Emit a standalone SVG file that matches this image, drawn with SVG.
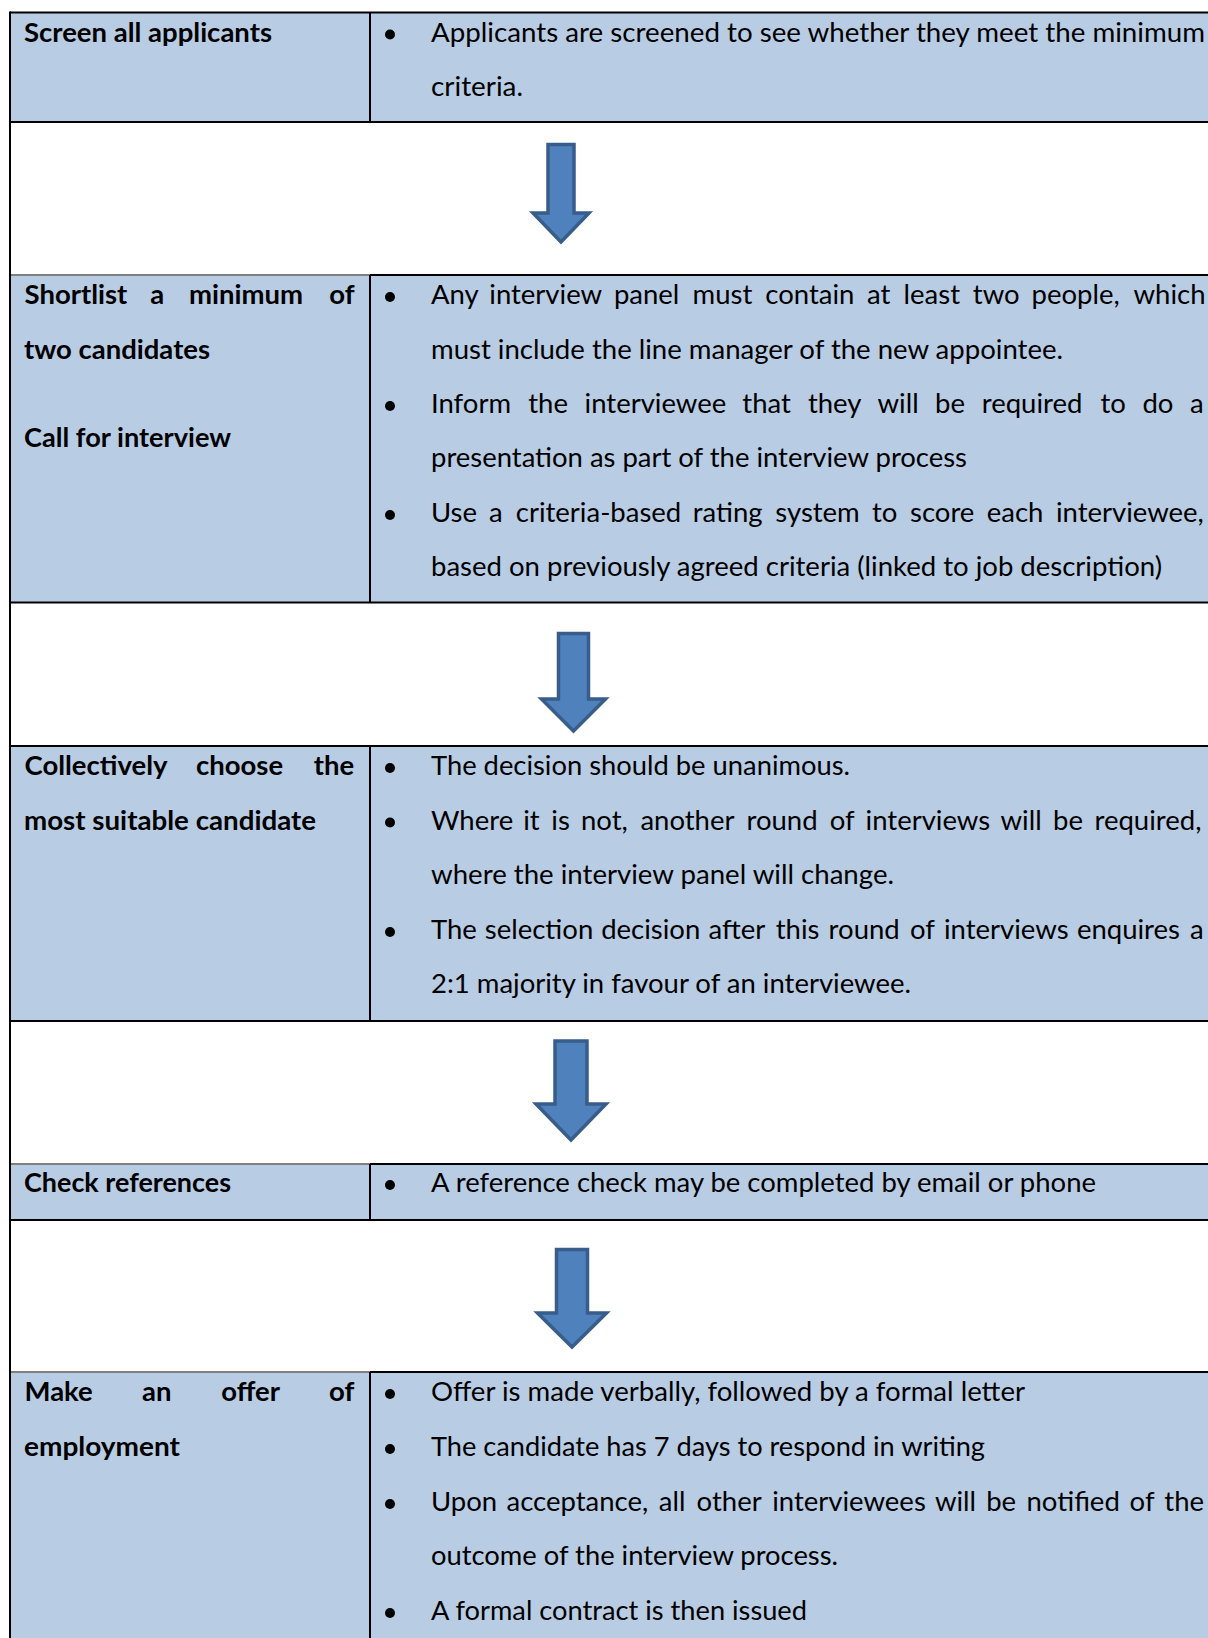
<svg xmlns="http://www.w3.org/2000/svg" width="1208" height="1638" viewBox="0 0 1208 1638">
<style>
.cell{fill:#B8CCE4}
.t{font-family:Lato,"Liberation Sans",sans-serif;font-size:27.5px;fill:#000}
.b{font-weight:700}
.ln{stroke:#000;stroke-width:2;fill:none}
.lg{stroke:#808080;stroke-width:2;fill:none}
.bul{fill:#000}
.arrow{fill:#4F81BD;stroke:#385D8A;stroke-width:3.5;stroke-linejoin:miter}
</style>
<rect x="0" y="0" width="1208" height="1638" fill="#fff"/>

<g id="step1">
<rect class="cell" x="10" y="12.5" width="1198" height="109.5"/>
<line class="ln" x1="10" y1="12.5" x2="1208" y2="12.5"/>
<line class="ln" x1="10" y1="122" x2="1208" y2="122"/>
<line class="ln" x1="370" y1="12.5" x2="370" y2="122"/>
<text class="t b" x="24" y="41.5" textLength="248" lengthAdjust="spacingAndGlyphs">Screen all applicants</text>
<circle class="bul" cx="390" cy="34.5" r="5"/>
<text class="t" x="431" y="41.5" textLength="774" lengthAdjust="spacingAndGlyphs">Applicants are screened to see whether they meet the minimum</text>
<text class="t" x="431" y="95.5" textLength="92" lengthAdjust="spacingAndGlyphs">criteria.</text>
</g>

<g id="step2">
<rect class="cell" x="10" y="275" width="1198" height="327.5"/>
<line class="lg" x1="10" y1="275" x2="370" y2="275"/>
<line class="ln" x1="370" y1="275" x2="1208" y2="275"/>
<line class="ln" x1="10" y1="602.5" x2="1208" y2="602.5"/>
<line class="ln" x1="370" y1="275" x2="370" y2="602.5"/>
<text class="t b" y="304"><tspan x="24.5">Shortlist </tspan><tspan x="150.3">a </tspan><tspan x="189">minimum </tspan><tspan x="329.3">of</tspan></text>
<text class="t b" x="24" y="358.5" textLength="186" lengthAdjust="spacingAndGlyphs">two candidates</text>
<text class="t b" x="24" y="447" textLength="207" lengthAdjust="spacingAndGlyphs">Call for interview</text>
<circle class="bul" cx="390" cy="297" r="5"/>
<circle class="bul" cx="390" cy="406" r="5"/>
<circle class="bul" cx="390" cy="515" r="5"/>
<text class="t" y="304"><tspan x="431">Any </tspan><tspan x="489.3">interview </tspan><tspan x="613.9">panel </tspan><tspan x="692.6">must </tspan><tspan x="765.3">contain </tspan><tspan x="867">at </tspan><tspan x="903.6">least </tspan><tspan x="972.8">two </tspan><tspan x="1031.6">people, </tspan><tspan x="1133.5">which</tspan></text>
<text class="t" x="431" y="358.5" textLength="632" lengthAdjust="spacingAndGlyphs">must include the line manager of the new appointee.</text>
<text class="t" y="413"><tspan x="431">Inform </tspan><tspan x="528.2">the </tspan><tspan x="584.6">interviewee </tspan><tspan x="742.3">that </tspan><tspan x="807.9">they </tspan><tspan x="877.5">will </tspan><tspan x="935.1">be </tspan><tspan x="981.7">required </tspan><tspan x="1100.5">to </tspan><tspan x="1142.4">do </tspan><tspan x="1189.9">a</tspan></text>
<text class="t" x="431" y="467" textLength="536" lengthAdjust="spacingAndGlyphs">presentation as part of the interview process</text>
<text class="t" y="522"><tspan x="431">Use </tspan><tspan x="488.9">a </tspan><tspan x="515.8">criteria-based </tspan><tspan x="692.7">rating </tspan><tspan x="775.3">system </tspan><tspan x="871.9">to </tspan><tspan x="910">score </tspan><tspan x="986.8">each </tspan><tspan x="1055.9">interviewee,</tspan></text>
<text class="t" x="431" y="576" textLength="731" lengthAdjust="spacingAndGlyphs">based on previously agreed criteria (linked to job description)</text>
</g>

<g id="step3">
<rect class="cell" x="10" y="746" width="1198" height="275"/>
<line class="ln" x1="10" y1="746" x2="1208" y2="746"/>
<line class="ln" x1="10" y1="1021" x2="1208" y2="1021"/>
<line class="ln" x1="370" y1="746" x2="370" y2="1021"/>
<text class="t b" y="775"><tspan x="24.5">Collectively </tspan><tspan x="196">choose </tspan><tspan x="313.8">the</tspan></text>
<text class="t b" x="24" y="829.5" textLength="292" lengthAdjust="spacingAndGlyphs">most suitable candidate</text>
<circle class="bul" cx="390" cy="768" r="5"/>
<circle class="bul" cx="390" cy="822.5" r="5"/>
<circle class="bul" cx="390" cy="932" r="5"/>
<text class="t" x="431" y="775" textLength="419" lengthAdjust="spacingAndGlyphs">The decision should be unanimous.</text>
<text class="t" y="829.5"><tspan x="431">Where </tspan><tspan x="523.2">it </tspan><tspan x="551.3">is </tspan><tspan x="581">not, </tspan><tspan x="640.4">another </tspan><tspan x="746.5">round </tspan><tspan x="829.7">of </tspan><tspan x="865.6">interviews </tspan><tspan x="1000.5">will </tspan><tspan x="1053">be </tspan><tspan x="1094.5">required,</tspan></text>
<text class="t" x="431" y="884" textLength="463" lengthAdjust="spacingAndGlyphs">where the interview panel will change.</text>
<text class="t" y="939"><tspan x="431">The </tspan><tspan x="484.8">selection </tspan><tspan x="601.2">decision </tspan><tspan x="708.6">after </tspan><tspan x="775.7">this </tspan><tspan x="828.6">round </tspan><tspan x="909.9">of </tspan><tspan x="943.9">interviews </tspan><tspan x="1076.9">enquires </tspan><tspan x="1190">a</tspan></text>
<text class="t" x="431" y="993" textLength="480" lengthAdjust="spacingAndGlyphs">2:1 majority in favour of an interviewee.</text>
</g>

<g id="step4">
<rect class="cell" x="10" y="1164" width="1198" height="56"/>
<line class="lg" x1="10" y1="1164" x2="370" y2="1164"/>
<line class="ln" x1="370" y1="1164" x2="1208" y2="1164"/>
<line class="ln" x1="10" y1="1220" x2="1208" y2="1220"/>
<line class="ln" x1="370" y1="1164" x2="370" y2="1220"/>
<text class="t b" x="24" y="1192" textLength="207" lengthAdjust="spacingAndGlyphs">Check references</text>
<circle class="bul" cx="390" cy="1185" r="5"/>
<text class="t" x="431" y="1192" textLength="665" lengthAdjust="spacingAndGlyphs">A reference check may be completed by email or phone</text>
</g>

<g id="step5">
<rect class="cell" x="10" y="1372" width="1198" height="266"/>
<line class="lg" x1="10" y1="1372" x2="370" y2="1372"/>
<line class="ln" x1="370" y1="1372" x2="1208" y2="1372"/>
<line class="ln" x1="370" y1="1372" x2="370" y2="1638"/>
<text class="t b" y="1401"><tspan x="24.5">Make </tspan><tspan x="142.1">an </tspan><tspan x="221.2">offer </tspan><tspan x="329.1">of</tspan></text>
<text class="t b" x="24" y="1456" textLength="156" lengthAdjust="spacingAndGlyphs">employment</text>
<circle class="bul" cx="390" cy="1394" r="5"/>
<circle class="bul" cx="390" cy="1449" r="5"/>
<circle class="bul" cx="390" cy="1504" r="5"/>
<circle class="bul" cx="390" cy="1613" r="5"/>
<text class="t" x="431" y="1401" textLength="594" lengthAdjust="spacingAndGlyphs">Offer is made verbally, followed by a formal letter</text>
<text class="t" x="431" y="1456" textLength="554" lengthAdjust="spacingAndGlyphs">The candidate has 7 days to respond in writing</text>
<text class="t" y="1511"><tspan x="431">Upon </tspan><tspan x="506.5">acceptance, </tspan><tspan x="658.8">all </tspan><tspan x="696.6">other </tspan><tspan x="772.2">interviewees </tspan><tspan x="934.9">will </tspan><tspan x="986.2">be </tspan><tspan x="1026.5">notified </tspan><tspan x="1129.6">of </tspan><tspan x="1164.3">the</tspan></text>
<text class="t" x="431" y="1565" textLength="407" lengthAdjust="spacingAndGlyphs">outcome of the interview process.</text>
<text class="t" x="431" y="1620" textLength="376" lengthAdjust="spacingAndGlyphs">A formal contract is then issued</text>
</g>

<g id="frame">
<line class="ln" x1="10" y1="11.5" x2="10" y2="1638"/>
</g>

<g id="connectors">
<path class="arrow" d="M548,144.5 H574 V213 H589 L561,242 L533,213 H548 Z"/>
<path class="arrow" d="M558.5,633.5 H588.5 V699 H605.5 L573.5,731 L541.5,699 H558.5 Z"/>
<path class="arrow" d="M555,1041 H587 V1104 H606 L571,1140 L536,1104 H555 Z"/>
<path class="arrow" d="M556.5,1249.5 H587.5 V1313 H606.5 L572,1347 L537.5,1313 H556.5 Z"/>
</g>
</svg>
